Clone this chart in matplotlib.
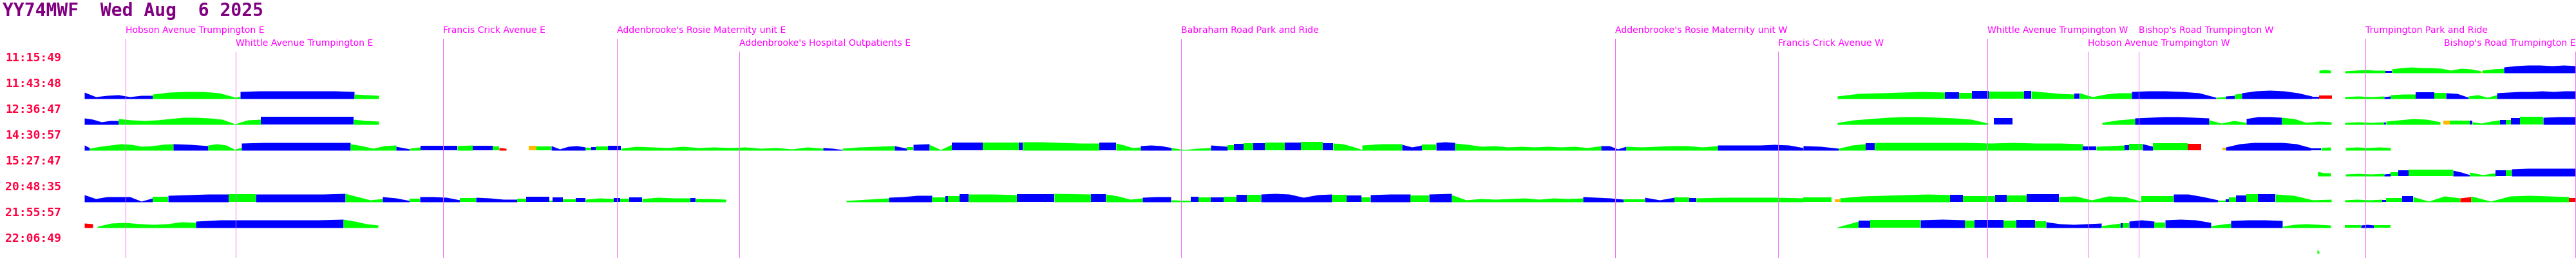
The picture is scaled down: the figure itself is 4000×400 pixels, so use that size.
import numpy as np
import matplotlib
matplotlib.use("Agg")
import matplotlib.pyplot as plt

# vehicle / date
title = "YY74MWF  Wed Aug  6 2025"

# trip start times, one per row
trip_times = ["11:15:49", "11:43:48", "12:36:47", "14:30:57",
              "15:27:47", "20:48:35", "21:55:57", "22:06:49"]

# timing points along the route (route position in px)
stop_names = ["Hobson Avenue Trumpington E", "Whittle Avenue Trumpington E",
              "Francis Crick Avenue E", "Addenbrooke's Rosie Maternity unit E",
              "Addenbrooke's Hospital Outpatients E", "Babraham Road Park and Ride",
              "Addenbrooke's Rosie Maternity unit W", "Francis Crick Avenue W",
              "Whittle Avenue Trumpington W", "Hobson Avenue Trumpington W",
              "Bishop's Road Trumpington W", "Trumpington Park and Ride",
              "Bishop's Road Trumpington E"]
stop_pos = [195, 366, 688, 958, 1148, 1834, 2508, 2761, 3086, 3242, 3321, 3673, 3999]
stop_level = [0, 1, 0, 0, 1, 0, 0, 1, 0, 1, 0, 0, 1]
line_top = [60, 80, 60, 60, 80, 60, 60, 80, 60, 80, 80, 60, 80]

# segments per row: (start, end, colour code, heights read along the segment)
row0 = [(3601, 3619, 'g', [4, 5, 4]), (3641, 3704, 'g', [3, 4, 5, 4, 4]),
        (3704, 3714, 'b', [3, 3]), (3714, 3852, 'g', [6, 8, 9, 8, 8, 7, 4, 7, 6, 3]),
        (3852, 3854, 'o', [2, 2]), (3854, 3888, 'g', [4, 6, 7]),
        (3888, 4000, 'b', [9, 11, 12, 12, 11, 12, 11])]

row1 = [(131, 237, 'b', [10, 3, 5, 6, 3, 5, 5]), (237, 366, 'g', [7, 10, 11, 11, 9, 2]),
        (366, 373, 'g', [2, 4]), (373, 550, 'b', [11, 12, 12, 12, 12, 12, 11]),
        (550, 588, 'g', [7, 6, 5]),
        (2853, 3020, 'g', [4, 8, 9, 10, 11, 10]), (3020, 3042, 'b', [10, 10]),
        (3042, 3062, 'g', [9, 9]), (3062, 3088, 'b', [12, 12]),
        (3088, 3143, 'g', [11, 11, 11]), (3143, 3154, 'b', [12, 12]),
        (3154, 3221, 'g', [12, 10, 8, 7]), (3221, 3229, 'b', [8, 8]),
        (3229, 3310, 'g', [9, 3, 7, 9, 9]), (3310, 3441, 'b', [11, 12, 12, 11, 9, 2]),
        (3441, 3456, 'g', [2, 3]), (3456, 3470, 'b', [4, 5]), (3470, 3481, 'g', [7, 8]),
        (3481, 3590, 'b', [9, 12, 13, 12, 9, 4]), (3590, 3601, 'b', [3, 3]),
        (3601, 3621, 'r', [5, 5]),
        (3641, 3702, 'g', [3, 4, 3, 4]), (3702, 3712, 'b', [3, 4]),
        (3712, 3751, 'g', [6, 7, 7]), (3751, 3780, 'b', [10, 10]),
        (3780, 3798, 'g', [9, 9]), (3798, 3833, 'b', [9, 8, 2]),
        (3833, 3877, 'g', [4, 6, 2, 6]), (3877, 4000, 'b', [9, 10, 11, 11, 12, 11, 12, 12])]

row2 = [(131, 184, 'b', [10, 8, 4, 6, 6]),
        (184, 405, 'g', [9, 7, 6, 7, 9, 11, 11, 10, 8, 1, 7, 8]),
        (405, 549, 'b', [12, 12, 12, 12, 12, 12]), (549, 588, 'g', [8, 6, 5]),
        (2853, 3087, 'g', [3, 7, 9, 11, 12, 12, 11, 10, 8, 2]), (3096, 3125, 'b', [10, 10]),
        (3264, 3315, 'g', [3, 7, 9]), (3315, 3430, 'b', [10, 11, 12, 12, 11, 10]),
        (3430, 3488, 'g', [7, 2, 6, 3]), (3488, 3543, 'b', [9, 12, 12, 11]),
        (3543, 3620, 'g', [11, 9, 3, 5, 4]),
        (3641, 3702, 'g', [3, 4, 3, 4]), (3702, 3705, 'b', [3, 3]),
        (3705, 3789, 'g', [5, 7, 9, 8, 4]), (3794, 3804, 'o', [6, 6]),
        (3804, 3835, 'g', [6, 6]), (3835, 3839, 'b', [6, 6]),
        (3839, 3882, 'g', [4, 2, 5, 7]), (3882, 3891, 'b', [7, 7]),
        (3891, 3899, 'g', [7, 7]), (3899, 3913, 'b', [10, 10]),
        (3913, 3949, 'g', [12, 12]), (3949, 4000, 'b', [11, 12, 12])]

row3 = [(131, 139, 'b', [8, 4]), (139, 269, 'g', [3, 6, 8, 10, 9, 6, 7, 9, 10]),
        (269, 323, 'b', [10, 9, 7]), (323, 365, 'g', [8, 10, 8, 1]),
        (365, 375, 'g', [2, 4]), (375, 544, 'b', [11, 12, 12, 12, 12, 12]),
        (544, 615, 'g', [10, 7, 3, 7, 8]), (615, 636, 'b', [6, 2]),
        (636, 653, 'g', [3, 5]), (653, 710, 'b', [7, 7, 7]), (710, 734, 'g', [7, 8]),
        (734, 765, 'b', [7, 7]), (765, 775, 'g', [6, 6]), (775, 786, 'r', [4, 3]),
        (821, 833, 'o', [7, 7]), (833, 856, 'g', [6, 6]),
        (856, 909, 'b', [7, 2, 6, 7, 5]), (909, 918, 'g', [4, 4]),
        (918, 925, 'b', [5, 5]), (925, 944, 'g', [6, 6]), (944, 964, 'b', [7, 7]),
        (964, 1278, 'g', [3, 6, 5, 4, 6, 4, 5, 4, 5, 3, 4, 2, 5, 3]),
        (1278, 1308, 'b', [4, 3, 1]), (1308, 1389, 'g', [3, 5, 6, 7]),
        (1389, 1408, 'b', [7, 3]), (1408, 1418, 'g', [5, 5]),
        (1418, 1443, 'b', [9, 10]), (1443, 1478, 'g', [9, 1, 9]),
        (1478, 1526, 'b', [12, 12, 12]), (1526, 1582, 'g', [12, 12]),
        (1582, 1588, 'b', [12, 12]), (1588, 1707, 'g', [13, 13, 12, 11, 11]),
        (1707, 1733, 'b', [12, 12]), (1733, 1771, 'g', [11, 8, 4, 5]),
        (1771, 1819, 'b', [7, 8, 7, 4]), (1819, 1880, 'g', [4, 1, 3, 4]),
        (1880, 1906, 'b', [8, 6]), (1906, 1916, 'g', [8, 8]),
        (1916, 1931, 'b', [10, 10]), (1931, 1946, 'g', [11, 11]),
        (1946, 1964, 'b', [11, 11]), (1964, 1995, 'g', [12, 12]),
        (1995, 2020, 'b', [12, 12]), (2020, 2054, 'g', [13, 13]),
        (2054, 2070, 'b', [11, 11]), (2070, 2115, 'g', [11, 10, 6, 1]),
        (2115, 2177, 'g', [8, 10, 10]), (2177, 2208, 'b', [9, 5, 8]),
        (2208, 2230, 'g', [9, 9]), (2230, 2259, 'b', [12, 13, 12]),
        (2259, 2486, 'g', [11, 9, 6, 7, 5, 6, 5, 6, 5, 6, 4, 7]),
        (2486, 2525, 'b', [7, 7, 2, 6]), (2525, 2667, 'g', [6, 5, 6, 7, 7, 5, 7]),
        (2667, 2800, 'b', [8, 8, 8, 8, 9, 8, 4]), (2800, 2855, 'b', [7, 6, 3]),
        (2855, 2897, 'g', [3, 8, 10]), (2897, 2911, 'b', [11, 11]),
        (2911, 3234, 'g', [12, 12, 12, 12, 12, 11, 12, 11, 11, 10]),
        (3234, 3255, 'b', [6, 6]), (3255, 3299, 'g', [6, 8]), (3299, 3306, 'b', [8, 8]),
        (3306, 3327, 'g', [10, 10]), (3327, 3343, 'b', [10, 6]),
        (3343, 3397, 'g', [11, 11]), (3397, 3418, 'r', [10, 10]),
        (3451, 3456, 'o', [4, 4]), (3456, 3588, 'b', [5, 10, 12, 12, 12, 10, 4]),
        (3588, 3604, 'b', [3, 3]), (3604, 3619, 'g', [4, 5]),
        (3642, 3712, 'g', [4, 5, 4, 5, 4])]

row4 = [(3599, 3619, 'g', [7, 5, 5]), (3642, 3702, 'g', [3, 4, 3, 4]),
        (3702, 3712, 'b', [3, 4]), (3712, 3724, 'g', [6, 6]), (3724, 3740, 'b', [9, 9]),
        (3740, 3809, 'g', [10, 10, 10]), (3809, 3835, 'b', [9, 6, 2]),
        (3835, 3875, 'g', [6, 2, 5]), (3875, 3891, 'b', [9, 9]),
        (3891, 3900, 'g', [9, 9]), (3900, 4000, 'b', [11, 12, 12, 12, 12])]

row5 = [(131, 237, 'b', [11, 5, 8, 8, 8, 1, 6]), (237, 261, 'g', [8, 8]),
        (261, 355, 'b', [10, 11, 12, 12]), (355, 397, 'g', [12, 12]),
        (397, 536, 'b', [12, 12, 12, 12, 13]), (536, 594, 'g', [13, 8, 3, 5]),
        (594, 636, 'b', [8, 6, 2]), (636, 652, 'g', [5, 5]),
        (652, 714, 'b', [8, 8, 7, 3]), (714, 739, 'g', [6, 6]),
        (739, 803, 'b', [7, 6, 4, 4]), (803, 817, 'g', [5, 5]),
        (817, 853, 'b', [8, 8]), (853, 858, 'g', [2, 2]), (858, 874, 'b', [7, 7]),
        (874, 894, 'g', [4, 4]), (894, 909, 'b', [6, 6]), (909, 953, 'g', [4, 6, 5]),
        (953, 963, 'b', [6, 6]), (963, 977, 'g', [5, 5]), (977, 997, 'b', [7, 7]),
        (997, 1072, 'g', [5, 7, 6, 6]), (1072, 1080, 'b', [6, 6]),
        (1080, 1127, 'g', [5, 5, 4]),
        (1314, 1380, 'g', [2, 4, 6]), (1380, 1447, 'b', [7, 8, 10, 10]),
        (1447, 1468, 'g', [7, 7]), (1468, 1472, 'b', [9, 9]), (1472, 1490, 'g', [9, 9]),
        (1490, 1504, 'b', [12, 12]), (1504, 1579, 'g', [12, 12, 11]),
        (1579, 1637, 'b', [12, 12]), (1637, 1694, 'g', [13, 12]),
        (1694, 1717, 'b', [12, 12]), (1717, 1774, 'g', [12, 9, 4, 6]),
        (1774, 1818, 'b', [7, 8, 8]), (1818, 1849, 'g', [3, 2]),
        (1849, 1861, 'b', [8, 8]), (1861, 1880, 'g', [7, 7]), (1880, 1900, 'b', [7, 7]),
        (1900, 1920, 'g', [8, 8]), (1920, 1936, 'b', [11, 11]), (1936, 1958, 'g', [11, 11]),
        (1958, 2068, 'b', [12, 13, 12, 7, 11, 12]), (2068, 2091, 'g', [11, 11]),
        (2091, 2114, 'b', [10, 10]), (2114, 2128, 'g', [7, 7]),
        (2128, 2190, 'b', [11, 12, 12]), (2190, 2219, 'g', [10, 10]),
        (2219, 2254, 'b', [12, 13]), (2254, 2458, 'g', [11, 3, 5, 4, 5, 6, 4, 6, 5, 6]),
        (2458, 2521, 'b', [8, 7, 6, 4]), (2521, 2554, 'g', [4, 4]),
        (2554, 2600, 'b', [7, 3, 7]), (2600, 2623, 'g', [7, 7]), (2623, 2634, 'b', [6, 6]),
        (2634, 2800, 'g', [6, 7, 7, 7, 6]), (2800, 2844, 'g', [7, 7]),
        (2849, 2857, 'o', [4, 4]), (2857, 3028, 'g', [6, 9, 10, 11, 12, 11]),
        (3028, 3048, 'b', [11, 11]), (3048, 3098, 'g', [9, 9]), (3098, 3116, 'b', [11, 11]),
        (3116, 3147, 'g', [10, 10]), (3147, 3197, 'b', [12, 12]),
        (3197, 3325, 'g', [8, 9, 3, 9, 8, 1]), (3325, 3375, 'g', [9, 9]),
        (3375, 3444, 'b', [12, 12, 8, 3]), (3444, 3456, 'g', [2, 2]),
        (3456, 3461, 'b', [4, 4]), (3461, 3472, 'g', [7, 7]), (3472, 3488, 'b', [10, 10]),
        (3488, 3506, 'g', [12, 12]), (3506, 3533, 'b', [12, 12]),
        (3533, 3620, 'g', [12, 10, 3, 4]),
        (3641, 3699, 'g', [3, 4, 3, 4]), (3699, 3705, 'b', [3, 3]),
        (3705, 3730, 'g', [6, 6]), (3730, 3747, 'b', [9, 9]),
        (3747, 3820, 'g', [8, 1, 9, 6]), (3820, 3837, 'r', [6, 8]),
        (3837, 3989, 'g', [9, 1, 9, 10, 9, 8]), (3989, 4000, 'r', [6, 6])]

row6 = [(131, 144, 'r', [7, 6]), (151, 304, 'g', [2, 7, 8, 6, 5, 6, 9, 8]),
        (304, 533, 'b', [10, 12, 12, 12, 12, 12, 13]), (533, 587, 'g', [13, 10, 6, 4]),
        (2853, 2886, 'g', [1, 10]), (2886, 2904, 'b', [11, 11]),
        (2904, 2982, 'g', [12, 12]), (2982, 3051, 'b', [12, 13, 12]),
        (3051, 3066, 'g', [11, 11]), (3066, 3111, 'b', [12, 12]),
        (3111, 3131, 'g', [11, 11]), (3131, 3160, 'b', [12, 12]),
        (3160, 3177, 'g', [10, 10]), (3177, 3263, 'b', [9, 6, 5, 6, 7]),
        (3263, 3293, 'g', [3, 7]), (3293, 3296, 'b', [7, 7]), (3296, 3306, 'g', [7, 7]),
        (3306, 3345, 'b', [10, 12, 10]), (3345, 3362, 'g', [8, 8]),
        (3362, 3433, 'b', [12, 13, 12, 8]), (3433, 3464, 'g', [3, 7]),
        (3464, 3544, 'b', [11, 12, 12, 11]), (3544, 3619, 'g', [2, 5, 6, 5, 4]),
        (3641, 3666, 'g', [4, 4]), (3666, 3686, 'b', [4, 5, 4]), (3686, 3712, 'g', [4, 4])]

row7 = [(3598, 3601, 'g', [6, 3])]

rows = [row0, row1, row2, row3, row4, row5, row6, row7]
colours = {'g': '#00ff00', 'b': '#0000ff', 'r': '#ff0000', 'o': '#ffb800'}

fig = plt.figure(figsize=(40, 4), dpi=100)
ax = fig.add_axes([0, 0, 1, 1])
ax.set_xlim(0, 4000)
ax.set_ylim(400, 0)
ax.axis("off")

# header
ax.text(4.5, 25, title, fontsize=20.2, family="DejaVu Sans Mono", weight="bold",
        color="#800080", va="baseline")

# trip start times down the left
for i, t in enumerate(trip_times):
    ax.text(8, 95 + 40 * i, t, fontsize=13, family="DejaVu Sans Mono", weight="bold",
            color="#ff0040", va="baseline")

# stop names and their markers
for name, x, lev, top in zip(stop_names, stop_pos, stop_level, line_top):
    ha = "right" if x > 3950 else "left"
    ax.text(x, 51 + 20 * lev, name, fontsize=10.1, family="DejaVu Sans",
            color="#ff00ff", va="baseline", ha=ha)
    ax.plot([x, x], [top, 400], color="#f070f0", lw=0.72, antialiased=False, zorder=5)

# speed profiles, one strip per row
for i, segs in enumerate(rows):
    base = 113 + 40 * i
    for x0, x1, c, h in segs:
        xs = np.linspace(x0, x1, len(h))
        ax.fill_between(xs, base, base - np.array(h), color=colours[c], lw=0,
                        antialiased=False, zorder=2)

fig.savefig("out.png", dpi=100)
